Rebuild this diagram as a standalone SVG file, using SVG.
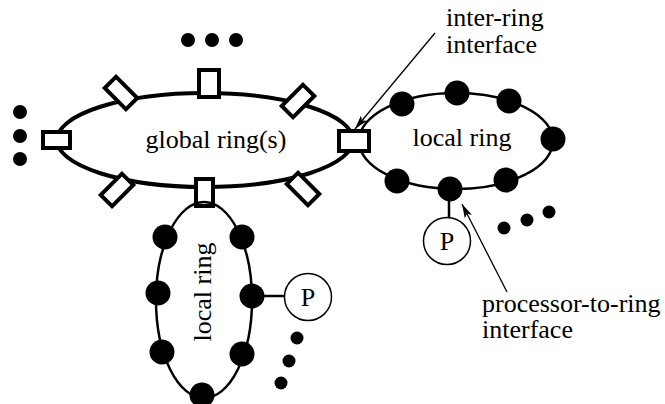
<svg xmlns="http://www.w3.org/2000/svg" width="665" height="404" viewBox="0 0 665 404">
<style>
.t{font-size:26px;fill:#000}
.ring{fill:none;stroke:#000}
.iface{fill:#fff;stroke:#000;stroke-width:4}
.dot{fill:#000}
.proc{fill:#fff;stroke:#000;stroke-width:1.5}
.lead{stroke:#000;stroke-width:1.3;fill:none}
.link{stroke:#000;stroke-width:2.5}
</style>
<defs>
<marker id="ah" viewBox="0 0 14 8" refX="14" refY="4" markerWidth="14" markerHeight="8" markerUnits="userSpaceOnUse" orient="auto">
<path d="M0,0 L14,4 L0,8 L3,4 Z" fill="#000"/>
</marker>
</defs>
<rect width="665" height="404" fill="#fff"/>
<g id="global-ring">
<ellipse class="ring" cx="205" cy="140" rx="148" ry="47" stroke-width="4"/>
<text class="t" font-family="Liberation Serif" x="216" y="148" text-anchor="middle">global ring(s)</text>
<rect class="iface" x="199" y="70" width="20" height="27"/>
<rect class="iface" x="43" y="132" width="27" height="16"/>
<rect class="iface" x="196" y="179" width="17" height="27"/>
<rect class="iface" x="-15" y="-8" width="30" height="16" transform="translate(121,93) rotate(45)"/>
<rect class="iface" x="-15" y="-8" width="30" height="16" transform="translate(298,101) rotate(-45)"/>
<rect class="iface" x="-15" y="-8" width="30" height="16" transform="translate(117,190) rotate(-45)"/>
<rect class="iface" x="-15" y="-8" width="30" height="16" transform="translate(303,189) rotate(45)"/>
</g>
<g id="more-top">
<circle class="dot" cx="188" cy="40" r="7"/>
<circle class="dot" cx="212" cy="40" r="7"/>
<circle class="dot" cx="236" cy="40" r="7"/>
</g>
<g id="more-left">
<circle class="dot" cx="20" cy="112" r="7"/>
<circle class="dot" cx="20" cy="136" r="7"/>
<circle class="dot" cx="20" cy="159" r="7"/>
</g>
<g id="local-ring-right">
<ellipse class="ring" cx="456" cy="141" rx="97" ry="48" stroke-width="2.5"/>
<text class="t" font-family="Liberation Serif" x="462" y="146" text-anchor="middle">local ring</text>
<rect class="iface" x="339" y="131" width="30" height="20"/>
<circle class="dot" cx="402" cy="104" r="12.5"/>
<circle class="dot" cx="457" cy="93" r="12.5"/>
<circle class="dot" cx="509" cy="101" r="12.5"/>
<circle class="dot" cx="553" cy="139" r="12.5"/>
<circle class="dot" cx="506" cy="180" r="12.5"/>
<circle class="dot" cx="450" cy="189" r="12.5"/>
<circle class="dot" cx="397" cy="181" r="12.5"/>
</g>
<g id="proc-right">
<line class="link" x1="449" y1="195" x2="449" y2="218"/>
<circle class="proc" cx="447" cy="241" r="23.5"/>
<text class="t" font-family="Liberation Serif" x="447" y="250" text-anchor="middle">P</text>
</g>
<g id="more-right">
<circle class="dot" cx="504" cy="228" r="6.5"/>
<circle class="dot" cx="527" cy="220" r="6.5"/>
<circle class="dot" cx="549" cy="212" r="6.5"/>
</g>
<g id="local-ring-bottom">
<ellipse class="ring" cx="204" cy="300" rx="48" ry="98" stroke-width="2.5"/>
<text class="t" font-family="Liberation Serif" x="0" y="0" text-anchor="middle" transform="translate(211,292) rotate(-90)">local ring</text>
<circle class="dot" cx="165" cy="237" r="12.5"/>
<circle class="dot" cx="242" cy="237" r="12.5"/>
<circle class="dot" cx="158" cy="293" r="12.5"/>
<circle class="dot" cx="252" cy="296" r="12.5"/>
<circle class="dot" cx="162" cy="352" r="12.5"/>
<circle class="dot" cx="242" cy="354" r="12.5"/>
<circle class="dot" cx="202" cy="395" r="12.5"/>
</g>
<g id="proc-bottom">
<line class="link" x1="258" y1="296" x2="285" y2="296"/>
<circle class="proc" cx="308" cy="297" r="23.5"/>
<text class="t" font-family="Liberation Serif" x="308" y="306" text-anchor="middle">P</text>
</g>
<g id="more-bottom">
<circle class="dot" cx="297" cy="338" r="6.5"/>
<circle class="dot" cx="289" cy="361" r="6.5"/>
<circle class="dot" cx="281" cy="383" r="6.5"/>
</g>
<g id="label-inter-ring">
<text class="t" font-family="Liberation Serif" x="446" y="26">inter-ring</text>
<text class="t" font-family="Liberation Serif" x="446" y="53">interface</text>
</g>
<g id="label-proc-ring">
<text class="t" font-family="Liberation Serif" x="482" y="312">processor-to-ring</text>
<text class="t" font-family="Liberation Serif" x="482" y="338">interface</text>
</g>
<g id="connectors">
<line class="lead" x1="435" y1="33" x2="355" y2="129" marker-end="url(#ah)"/>
<line class="lead" x1="507" y1="292" x2="462" y2="204" marker-end="url(#ah)"/>
</g>
</svg>
